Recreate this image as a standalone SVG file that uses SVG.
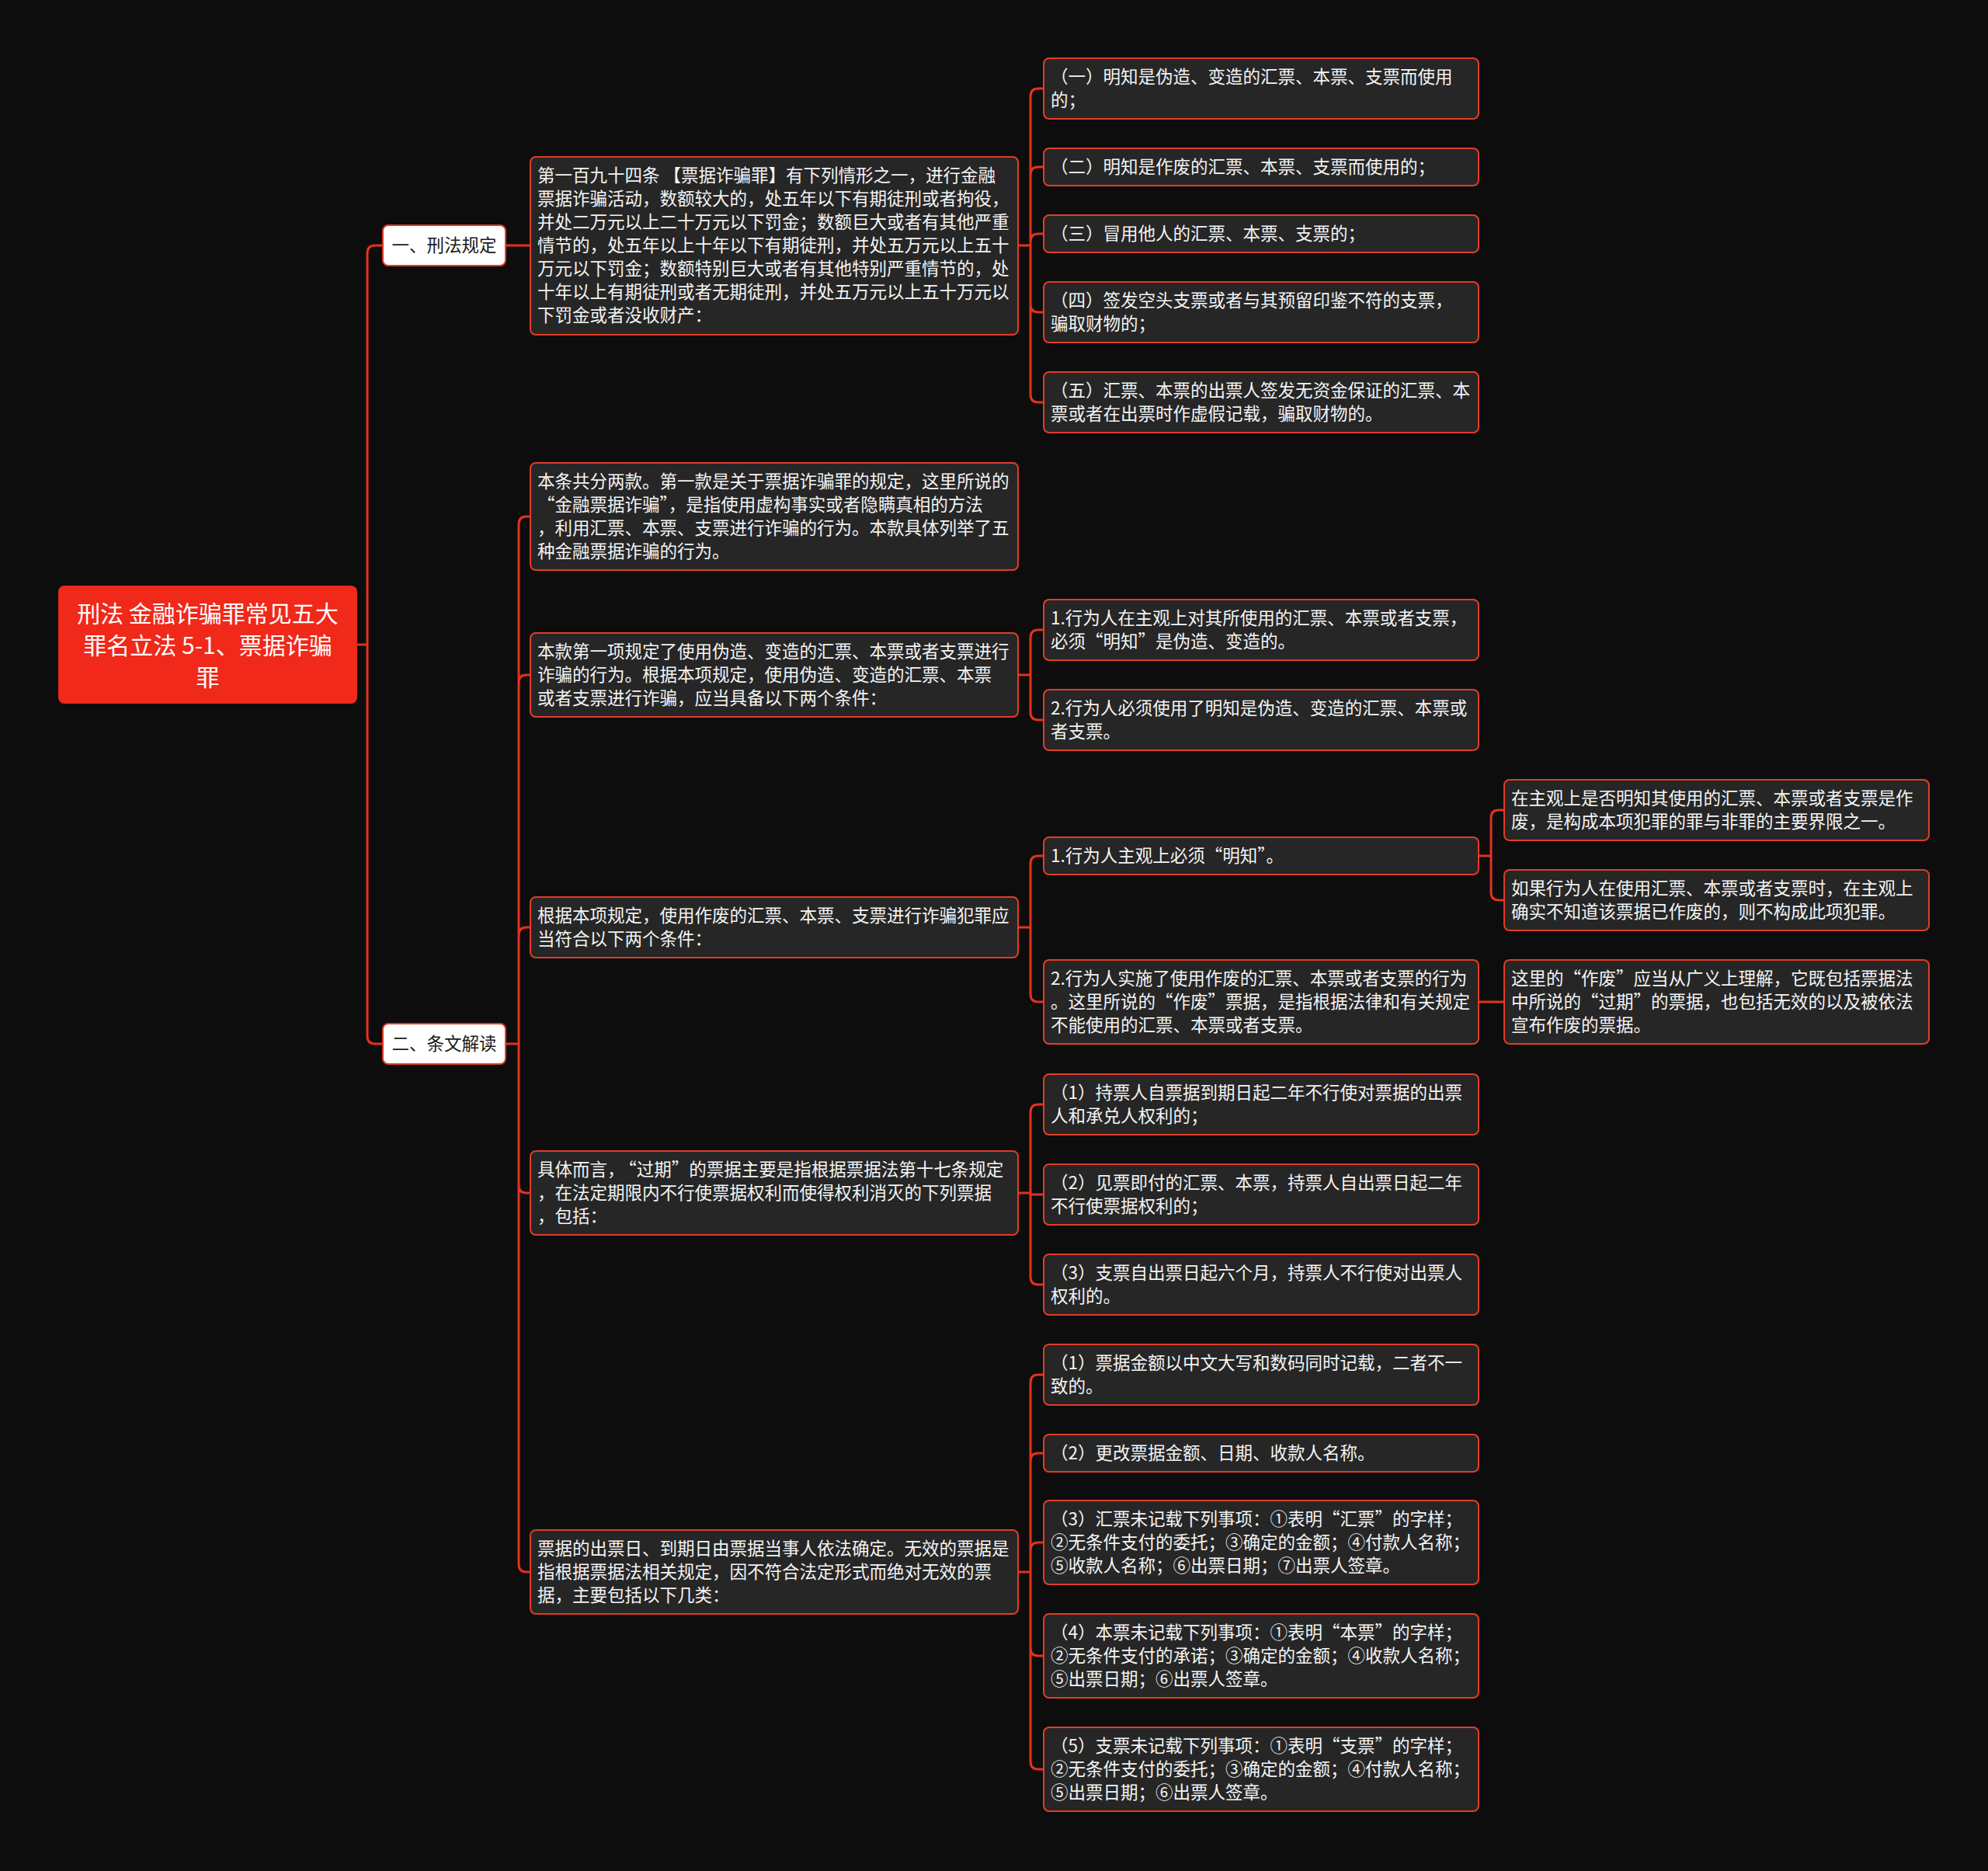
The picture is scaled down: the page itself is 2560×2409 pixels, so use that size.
<svg xmlns="http://www.w3.org/2000/svg" width="2560" height="2409" viewBox="0 0 2560 2409">
<style>
.bg{fill:#0d0d0d}
.n rect{fill:#262626;stroke:#e23c28;stroke-width:2}
.n text{font-family:"Noto Sans CJK SC","Noto Sans",sans-serif;font-size:22.5px;fill:#f4f4f4}
.sec rect{fill:#ffffff;stroke:#e23c28;stroke-width:2}
.sec text{font-family:"Noto Sans CJK SC","Noto Sans",sans-serif;font-size:22.5px;fill:#1a1a1a;text-anchor:middle}
.root rect{fill:#f0291a}
.root text{font-family:"Noto Sans CJK SC","Noto Sans",sans-serif;font-size:30px;fill:#ffffff;text-anchor:middle}
.c path{fill:none;stroke:#e5311e;stroke-width:3;stroke-linecap:round}
.q{font-feature-settings:"fwid" 1}
</style>
<rect class="bg" x="0" y="0" width="2560" height="2409"/>

<g id="connectors" class="c">
<path d="M460 830 H473 M473 830 V326 Q473 316 483 316 H493 M473 830 V1334 Q473 1344 483 1344 H493"/>
<path d="M651 316 H683"/>
<path d="M651 1344 H668 M668 675 V2014 M668 675 Q668 665 678 665 H683 M668 879 Q668 869 678 869 H683 M668 1204 Q668 1194 678 1194 H683 M668 1526 Q668 1536 678 1536 H683 M668 2014 Q668 2024 678 2024 H683"/>
<path d="M1311 316 H1327 M1327 124 V508 M1327 124 Q1327 114 1337 114 H1344 M1327 225 Q1327 215 1337 215 H1344 M1327 311 Q1327 301 1337 301 H1344 M1327 392 Q1327 402 1337 402 H1344 M1327 508 Q1327 518 1337 518 H1344"/>
<path d="M1311 869 H1327 M1327 821 V917 M1327 821 Q1327 811 1337 811 H1344 M1327 917 Q1327 927 1337 927 H1344"/>
<path d="M1311 1194 H1327 M1327 1112 V1280 M1327 1112 Q1327 1102 1337 1102 H1344 M1327 1280 Q1327 1290 1337 1290 H1344"/>
<path d="M1904 1102 H1920 M1920 1053 V1149 M1920 1053 Q1920 1043 1930 1043 H1937 M1920 1149 Q1920 1159 1930 1159 H1937"/>
<path d="M1904 1290 H1937"/>
<path d="M1311 1536 H1327 M1327 1432 V1644 M1327 1432 Q1327 1422 1337 1422 H1344 M1327 1538 H1344 M1327 1644 Q1327 1654 1337 1654 H1344"/>
<path d="M1311 2024 H1327 M1327 1780 V2268 M1327 1780 Q1327 1770 1337 1770 H1344 M1327 1881 Q1327 1871 1337 1871 H1344 M1327 1996 Q1327 1986 1337 1986 H1344 M1327 2122 Q1327 2132 1337 2132 H1344 M1327 2268 Q1327 2278 1337 2278 H1344"/>
</g>

<g id="root" class="root">
<rect x="75" y="754" width="385" height="152" rx="8"/>
<text x="267.5" y="801">刑法 金融诈骗罪常见五大</text>
<text x="267.5" y="842">罪名立法 5-1、票据诈骗</text>
<text x="267.5" y="883">罪</text>
</g>

<g id="sec1" class="sec">
<rect x="493" y="290" width="158" height="52" rx="7"/>
<text x="572" y="324">一、刑法规定</text>
</g>
<g id="sec2" class="sec">
<rect x="493" y="1318" width="158" height="52" rx="7"/>
<text x="572" y="1352">二、条文解读</text>
</g>

<g id="L1" class="n">
<rect x="683" y="202" width="628" height="229" rx="7"/>
<text x="692" y="234">第一百九十四条 【票据诈骗罪】有下列情形之一，进行金融</text>
<text x="692" y="264">票据诈骗活动，数额较大的，处五年以下有期徒刑或者拘役，</text>
<text x="692" y="294">并处二万元以上二十万元以下罚金；数额巨大或者有其他严重</text>
<text x="692" y="324">情节的，处五年以上十年以下有期徒刑，并处五万元以上五十</text>
<text x="692" y="354">万元以下罚金；数额特别巨大或者有其他特别严重情节的，处</text>
<text x="692" y="384">十年以上有期徒刑或者无期徒刑，并处五万元以上五十万元以</text>
<text x="692" y="414">下罚金或者没收财产：</text>
</g>

<g id="R1a" class="n">
<rect x="1344" y="75" width="560" height="78" rx="7"/>
<text x="1353" y="107">（一）明知是伪造、变造的汇票、本票、支票而使用</text>
<text x="1353" y="137">的；</text>
</g>
<g id="R1b" class="n">
<rect x="1344" y="191" width="560" height="48" rx="7"/>
<text x="1353" y="223">（二）明知是作废的汇票、本票、支票而使用的；</text>
</g>
<g id="R1c" class="n">
<rect x="1344" y="277" width="560" height="48" rx="7"/>
<text x="1353" y="309">（三）冒用他人的汇票、本票、支票的；</text>
</g>
<g id="R1d" class="n">
<rect x="1344" y="363" width="560" height="78" rx="7"/>
<text x="1353" y="395">（四）签发空头支票或者与其预留印鉴不符的支票，</text>
<text x="1353" y="425">骗取财物的；</text>
</g>
<g id="R1e" class="n">
<rect x="1344" y="479" width="560" height="78" rx="7"/>
<text x="1353" y="511">（五）汇票、本票的出票人签发无资金保证的汇票、本</text>
<text x="1353" y="541">票或者在出票时作虚假记载，骗取财物的。</text>
</g>

<g id="L2" class="n">
<rect x="683" y="596" width="628" height="138" rx="7"/>
<text x="692" y="628">本条共分两款。第一款是关于票据诈骗罪的规定，这里所说的</text>
<text x="692" y="658"><tspan class="q">“</tspan>金融票据诈骗<tspan class="q">”</tspan>，是指使用虚构事实或者隐瞒真相的方法</text>
<text x="692" y="688">，利用汇票、本票、支票进行诈骗的行为。本款具体列举了五</text>
<text x="692" y="718">种金融票据诈骗的行为。</text>
</g>

<g id="L3" class="n">
<rect x="683" y="815" width="628" height="108" rx="7"/>
<text x="692" y="847">本款第一项规定了使用伪造、变造的汇票、本票或者支票进行</text>
<text x="692" y="877">诈骗的行为。根据本项规定，使用伪造、变造的汇票、本票</text>
<text x="692" y="907">或者支票进行诈骗，应当具备以下两个条件：</text>
</g>
<g id="R3a" class="n">
<rect x="1344" y="772" width="560" height="78" rx="7"/>
<text x="1353" y="804">1.行为人在主观上对其所使用的汇票、本票或者支票，</text>
<text x="1353" y="834">必须<tspan class="q">“</tspan>明知<tspan class="q">”</tspan>是伪造、变造的。</text>
</g>
<g id="R3b" class="n">
<rect x="1344" y="888" width="560" height="78" rx="7"/>
<text x="1353" y="920">2.行为人必须使用了明知是伪造、变造的汇票、本票或</text>
<text x="1353" y="950">者支票。</text>
</g>

<g id="L4" class="n">
<rect x="683" y="1155" width="628" height="78" rx="7"/>
<text x="692" y="1187">根据本项规定，使用作废的汇票、本票、支票进行诈骗犯罪应</text>
<text x="692" y="1217">当符合以下两个条件：</text>
</g>
<g id="R4a" class="n">
<rect x="1344" y="1078" width="560" height="48" rx="7"/>
<text x="1353" y="1110">1.行为人主观上必须<tspan class="q">“</tspan>明知<tspan class="q">”</tspan>。</text>
</g>
<g id="R4b" class="n">
<rect x="1344" y="1236" width="560" height="108" rx="7"/>
<text x="1353" y="1268">2.行为人实施了使用作废的汇票、本票或者支票的行为</text>
<text x="1353" y="1298">。这里所说的<tspan class="q">“</tspan>作废<tspan class="q">”</tspan>票据，是指根据法律和有关规定</text>
<text x="1353" y="1328">不能使用的汇票、本票或者支票。</text>
</g>
<g id="F4a" class="n">
<rect x="1937" y="1004" width="547" height="78" rx="7"/>
<text x="1946" y="1036">在主观上是否明知其使用的汇票、本票或者支票是作</text>
<text x="1946" y="1066">废，是构成本项犯罪的罪与非罪的主要界限之一。</text>
</g>
<g id="F4b" class="n">
<rect x="1937" y="1120" width="547" height="78" rx="7"/>
<text x="1946" y="1152">如果行为人在使用汇票、本票或者支票时，在主观上</text>
<text x="1946" y="1182">确实不知道该票据已作废的，则不构成此项犯罪。</text>
</g>
<g id="F4c" class="n">
<rect x="1937" y="1236" width="547" height="108" rx="7"/>
<text x="1946" y="1268">这里的<tspan class="q">“</tspan>作废<tspan class="q">”</tspan>应当从广义上理解，它既包括票据法</text>
<text x="1946" y="1298">中所说的<tspan class="q">“</tspan>过期<tspan class="q">”</tspan>的票据，也包括无效的以及被依法</text>
<text x="1946" y="1328">宣布作废的票据。</text>
</g>

<g id="L5" class="n">
<rect x="683" y="1482" width="628" height="108" rx="7"/>
<text x="692" y="1514">具体而言，<tspan class="q" dx="4">“</tspan>过期<tspan class="q">”</tspan>的票据主要是指根据票据法第十七条规定</text>
<text x="692" y="1544">，在法定期限内不行使票据权利而使得权利消灭的下列票据</text>
<text x="692" y="1574">，包括：</text>
</g>
<g id="R5a" class="n">
<rect x="1344" y="1383" width="560" height="78" rx="7"/>
<text x="1353" y="1415">（1）持票人自票据到期日起二年不行使对票据的出票</text>
<text x="1353" y="1445">人和承兑人权利的；</text>
</g>
<g id="R5b" class="n">
<rect x="1344" y="1499" width="560" height="78" rx="7"/>
<text x="1353" y="1531">（2）见票即付的汇票、本票，持票人自出票日起二年</text>
<text x="1353" y="1561">不行使票据权利的；</text>
</g>
<g id="R5c" class="n">
<rect x="1344" y="1615" width="560" height="78" rx="7"/>
<text x="1353" y="1647">（3）支票自出票日起六个月，持票人不行使对出票人</text>
<text x="1353" y="1677">权利的。</text>
</g>

<g id="L6" class="n">
<rect x="683" y="1970" width="628" height="108" rx="7"/>
<text x="692" y="2002">票据的出票日、到期日由票据当事人依法确定。无效的票据是</text>
<text x="692" y="2032">指根据票据法相关规定，因不符合法定形式而绝对无效的票</text>
<text x="692" y="2062">据，主要包括以下几类：</text>
</g>
<g id="R6a" class="n">
<rect x="1344" y="1731" width="560" height="78" rx="7"/>
<text x="1353" y="1763">（1）票据金额以中文大写和数码同时记载，二者不一</text>
<text x="1353" y="1793">致的。</text>
</g>
<g id="R6b" class="n">
<rect x="1344" y="1847" width="560" height="48" rx="7"/>
<text x="1353" y="1879">（2）更改票据金额、日期、收款人名称。</text>
</g>
<g id="R6c" class="n">
<rect x="1344" y="1932" width="560" height="108" rx="7"/>
<text x="1353" y="1964">（3）汇票未记载下列事项：①表明<tspan class="q">“</tspan>汇票<tspan class="q">”</tspan>的字样；</text>
<text x="1353" y="1994">②无条件支付的委托；③确定的金额；④付款人名称；</text>
<text x="1353" y="2024">⑤收款人名称；⑥出票日期；⑦出票人签章。</text>
</g>
<g id="R6d" class="n">
<rect x="1344" y="2078" width="560" height="108" rx="7"/>
<text x="1353" y="2110">（4）本票未记载下列事项：①表明<tspan class="q">“</tspan>本票<tspan class="q">”</tspan>的字样；</text>
<text x="1353" y="2140">②无条件支付的承诺；③确定的金额；④收款人名称；</text>
<text x="1353" y="2170">⑤出票日期；⑥出票人签章。</text>
</g>
<g id="R6e" class="n">
<rect x="1344" y="2224" width="560" height="108" rx="7"/>
<text x="1353" y="2256">（5）支票未记载下列事项：①表明<tspan class="q">“</tspan>支票<tspan class="q">”</tspan>的字样；</text>
<text x="1353" y="2286">②无条件支付的委托；③确定的金额；④付款人名称；</text>
<text x="1353" y="2316">⑤出票日期；⑥出票人签章。</text>
</g>
</svg>
